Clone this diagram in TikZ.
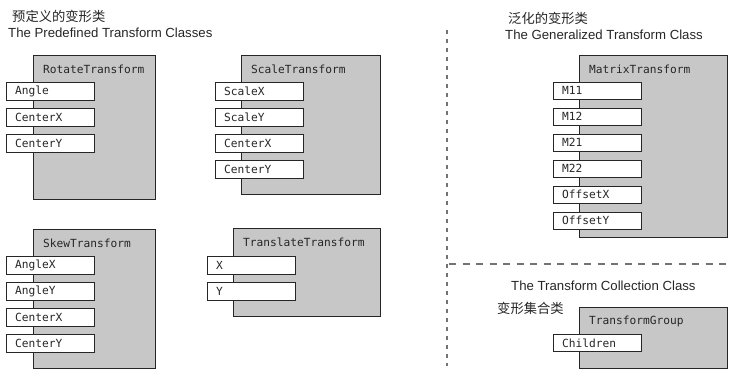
\documentclass[tikz,border=0pt]{standalone}
\usepackage{fontspec}
\setmainfont{Liberation Sans}
\setmonofont{DejaVu Sans Mono}
\newfontfamily\cjk{Noto Sans CJK SC}
\begin{document}
\begin{tikzpicture}[x=1pt,y=-1pt,
  cls/.style={draw=black!85, fill=black!22, line width=1.1pt, anchor=north west, inner sep=0pt},
  prop/.style={draw=black!85, fill=white, line width=1.1pt, anchor=north west, inner sep=0pt,
     minimum width=88pt, minimum height=17.5pt},
  ptext/.style={anchor=west, inner sep=0pt, font=\ttfamily\fontsize{11.2}{11}\selectfont, text=black!85},
  ctext/.style={anchor=west, inner sep=0pt, font=\ttfamily\fontsize{11.2}{11}\selectfont, text=black!85},
  head/.style={anchor=west, inner sep=0pt, font=\fontsize{13.2}{13}\selectfont, text=black!85},
  chead/.style={anchor=west, inner sep=0pt, font=\cjk\fontsize{13.3}{13}\selectfont, text=black!85},
  sep/.style={draw=black!55, line width=1.2pt}
]
\useasboundingbox (0,0) rectangle (735,378);
\newcommand\propbox[4]{\node[prop] (#1) at (#2,#3) {}; \node[ptext] (#1t) at ([xshift=9pt]#1.west) {#4};}
\newcommand\clsbox[6]{\node[cls, minimum width=#4pt, minimum height=#5pt] (#1) at (#2,#3) {};
  \node[ctext] (#1t) at ([xshift=10pt,yshift=-14pt]#1.north west) {#6};}

% headings
\node[chead] (h1c) at (12,16) {预定义的变形类};
\node[head] (h1e) at (8,33) {The Predefined Transform Classes};
\node[chead] (h2c) at (508,18) {泛化的变形类};
\node[head] (h2e) at (505,35) {The Generalized Transform Class};
\node[head] (h3e) at (511,286) {The Transform Collection Class};
\node[chead] (h3c) at (497,308) {变形集合类};

% separators
\coordinate (v1) at (447,30);
\coordinate (v2) at (447,366);
\coordinate (hz1) at (449,264);
\coordinate (hz2) at (729,264);
\draw[sep, dash pattern=on 4pt off 5pt] (v1) -- (v2);
\draw[sep, dash pattern=on 7pt off 6.5pt] (hz1) -- (hz2);

% RotateTransform
\clsbox{rot}{33}{55}{122}{144}{RotateTransform}
\propbox{rotA}{6}{82}{Angle}
\propbox{rotB}{6}{108}{CenterX}
\propbox{rotC}{6}{134}{CenterY}

% ScaleTransform
\clsbox{sca}{241}{55}{139}{139}{ScaleTransform}
\propbox{scaA}{215}{82}{ScaleX}
\propbox{scaB}{215}{108}{ScaleY}
\propbox{scaC}{215}{134}{CenterX}
\propbox{scaD}{215}{160}{CenterY}

% SkewTransform
\clsbox{skw}{33}{229}{122}{139}{SkewTransform}
\propbox{skwA}{6}{256}{AngleX}
\propbox{skwB}{6}{282}{AngleY}
\propbox{skwC}{6}{308}{CenterX}
\propbox{skwD}{6}{334}{CenterY}

% TranslateTransform
\clsbox{tra}{233}{228}{147}{88}{TranslateTransform}
\propbox{traA}{207}{256}{X}
\propbox{traB}{207}{282}{Y}

% MatrixTransform
\clsbox{mat}{579}{55}{148}{182}{MatrixTransform}
\propbox{matA}{553}{81.5}{M11}
\propbox{matB}{553}{107.5}{M12}
\propbox{matC}{553}{133.5}{M21}
\propbox{matD}{553}{159.5}{M22}
\propbox{matE}{553}{185.5}{OffsetX}
\propbox{matF}{553}{211.5}{OffsetY}

% TransformGroup
\clsbox{grp}{579}{307}{148}{61}{TransformGroup}
\propbox{grpA}{553}{333.5}{Children}
\end{tikzpicture}
\end{document}
